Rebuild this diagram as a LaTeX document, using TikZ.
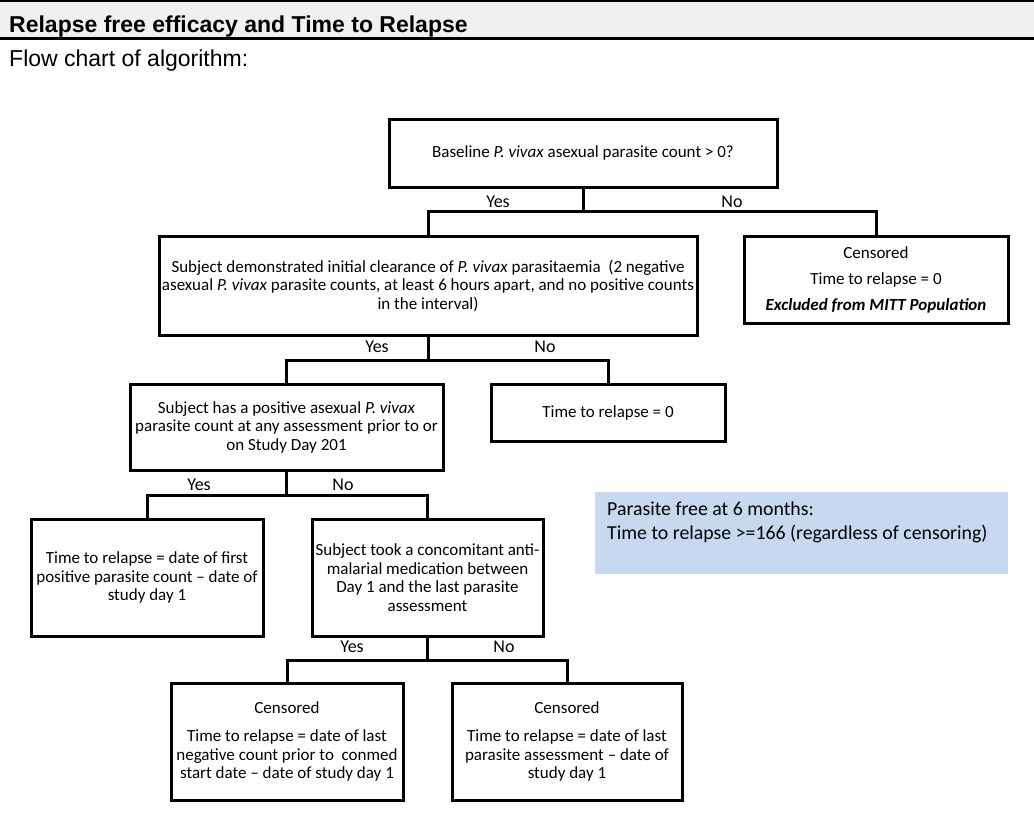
\documentclass[tikz,border=0pt]{standalone}
\usepackage{fontspec}
\setmainfont{Carlito}
\newfontfamily\arialfont{Liberation Sans}
\definecolor{hdrgray}{RGB}{240,240,240}
\definecolor{noteblue}{RGB}{198,217,241}
\begin{document}
\begin{tikzpicture}[x=1pt,y=-1pt,
  box/.style={draw, line width=3pt, inner sep=0pt, outer sep=0pt, align=center, font=\fontsize{17}{18.5}\selectfont},
  conn/.style={line width=3pt},
  lbl/.style={font=\fontsize{18}{20}\selectfont, inner sep=0pt},
  hdr/.style={anchor=base west, inner sep=0pt, font=\arialfont\fontsize{23}{26}\selectfont},
]
\useasboundingbox (0,0) rectangle (1034,835);
% header band
\fill[hdrgray] (0,2) rectangle (1034,37);
\draw[line width=2pt] (0,1) -- (1034,1);
\draw[line width=3pt] (0,38.5) -- (1034,38.5);
\node[hdr, font=\arialfont\bfseries\fontsize{23}{26}\selectfont] (title) at (9,32) {Relapse free efficacy and Time to Relapse};
\node[hdr] (sub) at (9,66) {Flow chart of algorithm:};

% boxes
\node[box, minimum width=388pt, minimum height=68pt] (b1) at (583,153)
  {Baseline \textit{P. vivax} asexual parasite count > 0?};
\node[box, minimum width=538pt, minimum height=99pt] (b2) at (428,285.5)
  {Subject demonstrated initial clearance of \textit{P. vivax} parasitaemia\ \ (2 negative\\
   asexual \textit{P. vivax} parasite counts, at least 6 hours apart, and no positive counts\\
   in the interval)};
\node[box, minimum width=264pt, minimum height=87pt] (b3) at (876,279.5)
  {Censored\\[7.5pt] Time to relapse = 0\\[7.5pt] \textbf{\textit{Excluded from MITT Population}}};
\node[box, minimum width=313pt, minimum height=86pt] (b4) at (286.5,427)
  {Subject has a positive asexual \textit{P. vivax}\\
   parasite count at any assessment prior to or\\
   on Study Day 201};
\node[box, minimum width=234pt, minimum height=57pt] (b5) at (608,412.5)
  {Time to relapse = 0};
\node[box, minimum width=232pt, minimum height=117pt] (b6) at (147,577.5)
  {Time to relapse = date of first\\ positive parasite count -- date of\\ study day 1};
\node[box, minimum width=231pt, minimum height=117pt] (b7) at (427.5,577.5)
  {Subject took a concomitant anti-\\ malarial medication between\\ Day 1 and the last parasite\\ assessment};
\node[box, minimum width=232pt, minimum height=117pt] (b8) at (287,741.5)
  {Censored\\[9.5pt] Time to relapse = date of last\\ negative count prior to\ \ conmed\\ start date -- date of study day 1};
\node[box, minimum width=230pt, minimum height=117pt] (b9) at (567,741.5)
  {Censored\\[9.5pt] Time to relapse = date of last\\ parasite assessment -- date of\\ study day 1};

% note
\node[fill=noteblue, inner sep=0pt, minimum width=413pt, minimum height=82pt] (note) at (801.5,533) {};
\node[anchor=north west, inner sep=0pt, align=left, font=\fontsize{19.8}{24}\selectfont] (notetxt) at (607,502)
  {Parasite free at 6 months:\\ Time to relapse >=166 (regardless of censoring)};

% junctions
\coordinate (j1) at (583,211);
\coordinate (j2) at (428,360);
\coordinate (j3) at (286.5,495);
\coordinate (j4) at (427.5,660);

\draw[conn] (b1.south) -- (j1);
\draw[conn] (b2.north) |- (j1) -| (b3.north);
\draw[conn] (b2.south) -- (j2);
\draw[conn] (b4.north) |- (j2) -| (b5.north);
\draw[conn] (b4.south) -- (j3);
\draw[conn] (b6.north) |- (j3) -| (b7.north);
\draw[conn] (b7.south) -- (j4);
\draw[conn] (b8.north) |- (j4) -| (b9.north);

% labels
\node[lbl] (y1) at (498,202) {Yes};
\node[lbl] (n1) at (732,202) {No};
\node[lbl] (y2) at (377,347) {Yes};
\node[lbl] (n2) at (545,347) {No};
\node[lbl] (y3) at (199,485) {Yes};
\node[lbl] (n3) at (343,485) {No};
\node[lbl] (y4) at (352,647) {Yes};
\node[lbl] (n4) at (504,647) {No};
\end{tikzpicture}
\end{document}
